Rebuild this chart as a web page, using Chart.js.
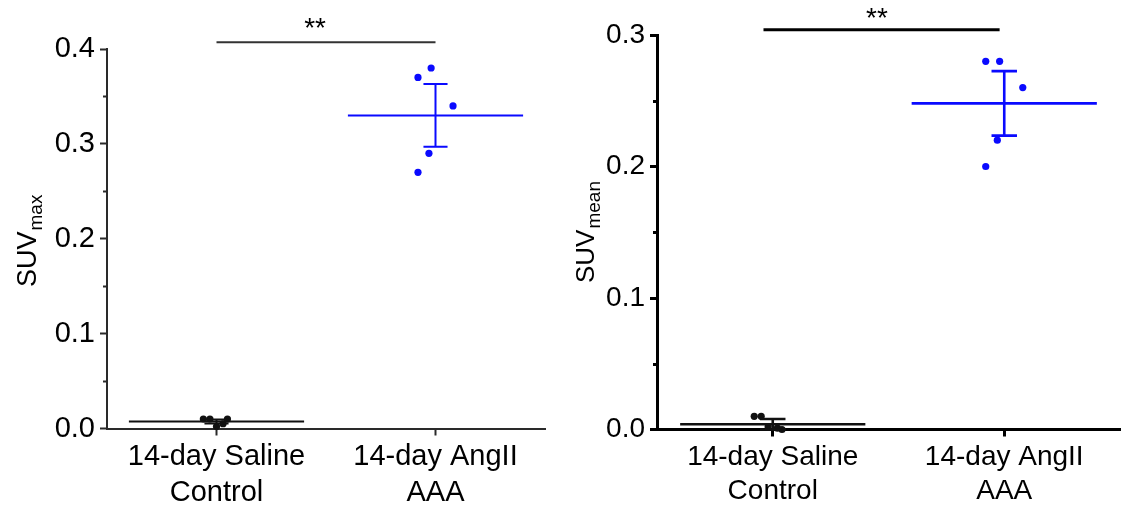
<!DOCTYPE html>
<html>
<head>
<meta charset="utf-8">
<script src="https://cdn.jsdelivr.net/npm/chart.js@4/dist/chart.umd.min.js"></script>
<style>
  html, body { margin: 0; padding: 0; background: #fff; }
  #wrap { display: flex; width: 1124px; height: 506px; }
  .box { position: relative; width: 562px; height: 506px; }
  canvas { display: block; }
</style>
</head>
<body>
<div id="wrap">
  <div class="box"><canvas id="cMax" width="562" height="506"></canvas></div>
  <div class="box"><canvas id="cMean" width="562" height="506"></canvas></div>
</div>
<script>
// Group labels and their positions on the x axis
const groupLabels = [['14-day Saline', 'Control'], ['14-day AngII', 'AAA']];
const groupPositions = [1, 2];

// SUVmax: individual animals (x = jittered group position)
const maxSalineX = [0.94, 0.97, 1.00, 1.03, 1.05];
const maxSalineY = [0.010, 0.010, 0.002, 0.005, 0.010];
const maxAngX = [1.92, 1.98, 2.08, 1.97, 1.92];
const maxAngY = [0.37, 0.38, 0.34, 0.29, 0.27];
const maxMeans = [0.0074, 0.33];
const maxErrors = [0.002, 0.033];
const maxTicks = [0, 0.1, 0.2, 0.3, 0.4];

// SUVmean: individual animals
const meanSalineX = [0.92, 0.95, 0.98, 1.02, 1.04];
const meanSalineY = [0.010, 0.010, 0.002, 0.001, 0.000];
const meanAngX = [1.92, 1.98, 2.08, 1.97, 1.92];
const meanAngY = [0.28, 0.28, 0.26, 0.22, 0.20];
const meanMeans = [0.004, 0.248];
const meanErrors = [0.004, 0.0245];
const meanTicks = [0, 0.1, 0.2, 0.3];

const FONT = "'Liberation Sans', Arial, Helvetica, sans-serif";
const groupColors = ['#111111', '#0a0aff'];

function pts(xs, ys) { return xs.map((x, i) => ({ x: x, y: ys[i] })); }

// horizontal mean line for group i
function meanLine(i, means) {
  const c = groupPositions[i];
  return [{ x: c - 0.4, y: means[i] }, { x: c + 0.4, y: means[i] }];
}

// error bar (stem + two caps), separated with gaps
function errBar(i, means, errs, cap) {
  const c = groupPositions[i], lo = means[i] - errs[i], hi = means[i] + errs[i];
  return [
    { x: c, y: lo }, { x: c, y: hi }, { x: c, y: null },
    { x: c - cap, y: hi }, { x: c + cap, y: hi }, { x: c, y: null },
    { x: c - cap, y: lo }, { x: c + cap, y: lo }
  ];
}

function makeChart(id, cfg) {
  const lw = cfg.lineWidth;
  const datasets = [];
  [0, 1].forEach(i => {
    datasets.push({
      data: meanLine(i, cfg.means), showLine: true, borderColor: groupColors[i],
      borderWidth: lw, pointRadius: 0, clip: false, spanGaps: false
    });
    datasets.push({
      data: errBar(i, cfg.means, cfg.errors, 0.055), showLine: true, borderColor: groupColors[i],
      borderWidth: lw, pointRadius: 0, clip: false, spanGaps: false
    });
    datasets.push({
      data: pts(cfg.xs[i], cfg.ys[i]), showLine: false, pointRadius: 3.6,
      pointBackgroundColor: groupColors[i], pointBorderWidth: 0, borderColor: groupColors[i], clip: false
    });
  });

  const decor = {
    id: 'decor',
    afterDraw(chart) {
      const ctx = chart.ctx, ys = chart.scales.y, xs = chart.scales.x, a = chart.chartArea;
      ctx.save();
      // minor ticks on the y axis
      ctx.strokeStyle = cfg.axisColor;
      ctx.lineWidth = cfg.axisWidth;
      for (let k = 0; k < cfg.ticks.length - 1; k++) {
        const v = (cfg.ticks[k] + cfg.ticks[k + 1]) / 2;
        const py = Math.round(ys.getPixelForValue(v)) + 0.5;
        ctx.beginPath();
        ctx.moveTo(a.left - 4, py);
        ctx.lineTo(a.left, py);
        ctx.stroke();
      }
      // significance bracket
      const by = ys.getPixelForValue(cfg.sigY);
      ctx.strokeStyle = cfg.sigColor;
      ctx.lineWidth = cfg.sigWidth;
      ctx.beginPath();
      ctx.moveTo(xs.getPixelForValue(cfg.sigFrom), by);
      ctx.lineTo(xs.getPixelForValue(cfg.sigTo), by);
      ctx.stroke();
      ctx.fillStyle = '#000';
      ctx.font = '28px ' + FONT;
      ctx.textAlign = 'center';
      ctx.textBaseline = 'alphabetic';
      ctx.fillText('**', xs.getPixelForValue(1.45), by + cfg.starOffset);
      // y axis title with subscript
      ctx.translate(cfg.titleX, cfg.titleY);
      ctx.rotate(-Math.PI / 2);
      ctx.textAlign = 'left';
      ctx.font = cfg.titleSize + 'px ' + FONT;
      ctx.fillText('SUV', 0, 0);
      const w = ctx.measureText('SUV').width;
      ctx.font = cfg.subSize + 'px ' + FONT;
      ctx.fillText(cfg.sub, w + 1, cfg.subShift);
      ctx.restore();
    }
  };

  const gridOpts = {
    display: true, drawOnChartArea: false, drawTicks: true,
    tickLength: 7, tickWidth: cfg.axisWidth, tickColor: cfg.axisColor
  };

  return new Chart(document.getElementById(id), {
    type: 'scatter',
    data: { datasets: datasets },
    options: {
      responsive: false, animation: false, devicePixelRatio: 1,
      layout: { padding: cfg.padding },
      plugins: { legend: { display: false }, tooltip: { enabled: false } },
      scales: {
        x: {
          type: 'linear', min: 0.5, max: 2.5,
          afterBuildTicks: s => { s.ticks = groupPositions.map(v => ({ value: v })); },
          afterFit: s => { s.height = cfg.xHeight; },
          ticks: {
            callback: (v, i) => groupLabels[i],
            color: '#000', padding: 4,
            font: { family: FONT, size: cfg.labelSize, lineHeight: 1.22 },
            maxRotation: 0, autoSkip: false
          },
          grid: gridOpts,
          border: { display: true, color: cfg.axisColor, width: cfg.axisWidth }
        },
        y: {
          min: 0, max: cfg.ticks[cfg.ticks.length - 1],
          afterBuildTicks: s => { s.ticks = cfg.ticks.map(v => ({ value: v })); },
          afterFit: s => { s.width = cfg.yWidth; },
          ticks: {
            callback: v => v.toFixed(1),
            color: '#000', padding: 5,
            font: { family: FONT, size: cfg.labelSize }
          },
          grid: gridOpts,
          border: { display: true, color: cfg.axisColor, width: cfg.axisWidth }
        }
      }
    },
    plugins: [decor]
  });
}

makeChart('cMax', {
  xs: [maxSalineX, maxAngX], ys: [maxSalineY, maxAngY],
  means: maxMeans, errors: maxErrors, ticks: maxTicks,
  lineWidth: 2, axisWidth: 2, axisColor: '#2a2a2a',
  sigY: 0.407, sigFrom: 1.0, sigTo: 2.0, sigColor: '#333', sigWidth: 2, starOffset: -5,
  padding: { top: 49, right: 17, left: 0, bottom: 0 },
  yWidth: 107, xHeight: 77.5, labelSize: 29,
  titleX: 36, titleY: 287, titleSize: 27, subSize: 19, sub: 'max', subShift: 6
});

makeChart('cMean', {
  xs: [meanSalineX, meanAngX], ys: [meanSalineY, meanAngY],
  means: meanMeans, errors: meanErrors, ticks: meanTicks,
  lineWidth: 2.6, axisWidth: 3, axisColor: '#000',
  sigY: 0.304, sigFrom: 0.96, sigTo: 1.98, sigColor: '#000', sigWidth: 3, starOffset: -3,
  padding: { top: 35, right: 3, left: 0, bottom: 0 },
  yWidth: 95, xHeight: 76.5, labelSize: 28,
  titleX: 32, titleY: 283, titleSize: 26, subSize: 19, sub: 'mean', subShift: 6
});
</script>
</body>
</html>
